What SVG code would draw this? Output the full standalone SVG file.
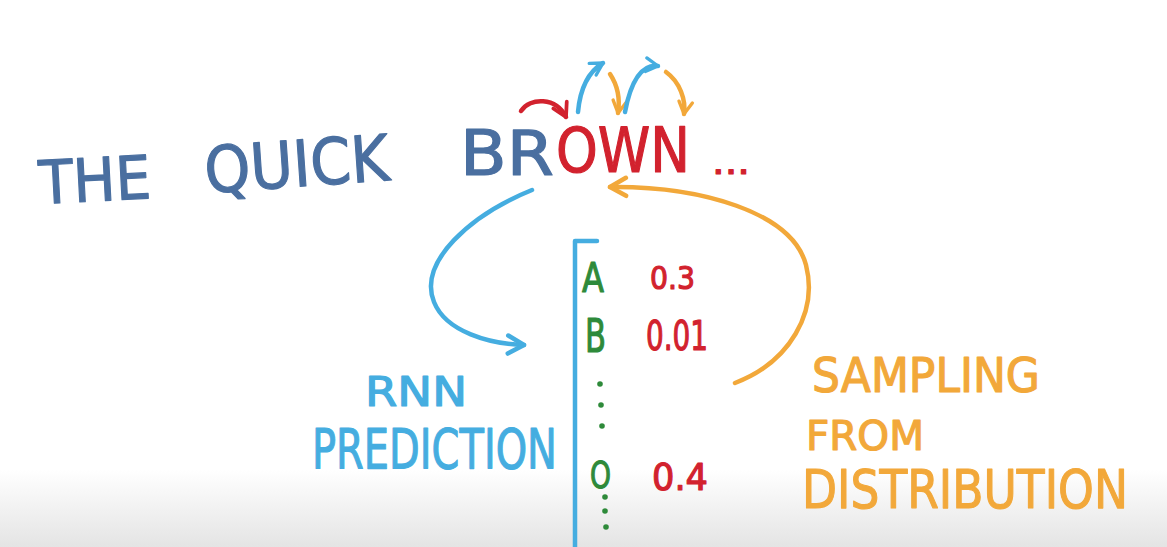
<svg xmlns="http://www.w3.org/2000/svg" width="1167" height="547" viewBox="0 0 1167 547">
<defs>
<linearGradient id="fade" x1="0" y1="0" x2="0" y2="1">
<stop offset="0" stop-color="#ffffff"/>
<stop offset="1" stop-color="#e4e4e4"/>
</linearGradient>
<marker id="mBlue" markerUnits="userSpaceOnUse" viewBox="0 0 24 24" refX="20" refY="12" markerWidth="24" markerHeight="24" orient="auto">
<path d="M4,3 L20,12 L4,21" fill="none" stroke="#45ade0" stroke-width="4.5" stroke-linecap="round" stroke-linejoin="round"/>
</marker>
<marker id="mOrange" markerUnits="userSpaceOnUse" viewBox="0 0 24 24" refX="20" refY="12" markerWidth="24" markerHeight="24" orient="auto">
<path d="M4,3 L20,12 L4,21" fill="none" stroke="#f2a83a" stroke-width="4.5" stroke-linecap="round" stroke-linejoin="round"/>
</marker>
<marker id="mRed" markerUnits="userSpaceOnUse" viewBox="0 0 24 24" refX="20" refY="12" markerWidth="20" markerHeight="20" orient="auto">
<path d="M4,3 L20,12 L4,21" fill="none" stroke="#d2222e" stroke-width="4.5" stroke-linecap="round" stroke-linejoin="round"/>
</marker>
<marker id="mBlueS" markerUnits="userSpaceOnUse" viewBox="0 0 24 24" refX="20" refY="12" markerWidth="18" markerHeight="18" orient="auto">
<path d="M4,3 L20,12 L4,21" fill="none" stroke="#45ade0" stroke-width="4.5" stroke-linecap="round" stroke-linejoin="round"/>
</marker>
<marker id="mOrangeS" markerUnits="userSpaceOnUse" viewBox="0 0 24 24" refX="20" refY="12" markerWidth="18" markerHeight="18" orient="auto">
<path d="M4,3 L20,12 L4,21" fill="none" stroke="#f2a83a" stroke-width="4.5" stroke-linecap="round" stroke-linejoin="round"/>
</marker>
</defs>
<style>
text{font-family:"DejaVu Sans","Liberation Sans",sans-serif;stroke-width:1.2;stroke-linejoin:round}
.navy{fill:#4a6fa0;stroke:#4a6fa0}
.red{fill:#d2222e;stroke:#d2222e}
.sky{fill:#45ade0;stroke:#45ade0}
.amber{fill:#f2a83a;stroke:#f2a83a}
.green{fill:#2e8a3a;stroke:#2e8a3a}
.line{fill:none;stroke-width:4.5;stroke-linecap:round;stroke-linejoin:round}
</style>
<rect width="1167" height="547" fill="#ffffff"/>
<rect y="470" width="1167" height="77" fill="url(#fade)"/>

<g id="sentence">
<text class="navy" x="40" y="204" font-size="60" textLength="112" lengthAdjust="spacingAndGlyphs" transform="rotate(-3 40 204)">THE</text>
<text class="navy" x="206" y="193" font-size="64" textLength="185" lengthAdjust="spacingAndGlyphs" transform="rotate(-4 206 193)">QUICK</text>
<text class="navy" x="460" y="175" font-size="62" textLength="94" lengthAdjust="spacingAndGlyphs">BR</text>
<text class="red" x="556" y="172" font-size="62" textLength="134" lengthAdjust="spacingAndGlyphs">OWN</text>
<text class="red" x="712" y="174" font-size="36" textLength="38" lengthAdjust="spacingAndGlyphs">...</text>
</g>

<g id="distribution">
<path class="line" d="M597,241 L575,241 L575,547" stroke="#45ade0"/>
<text class="green" x="582" y="292" font-size="41" textLength="22" lengthAdjust="spacingAndGlyphs">A</text>
<text class="green" x="585" y="352" font-size="46" textLength="21" lengthAdjust="spacingAndGlyphs">B</text>
<circle cx="600" cy="384" r="2.8" fill="#2e8a3a"/>
<circle cx="601" cy="405" r="2.8" fill="#2e8a3a"/>
<circle cx="602" cy="426" r="2.8" fill="#2e8a3a"/>
<text class="green" x="590" y="488" font-size="38" textLength="21" lengthAdjust="spacingAndGlyphs">O</text>
<circle cx="605" cy="497" r="2.8" fill="#2e8a3a"/>
<circle cx="605" cy="511" r="2.8" fill="#2e8a3a"/>
<circle cx="606" cy="527" r="2.8" fill="#2e8a3a"/>
<text class="red" x="650" y="289" font-size="32" textLength="45" lengthAdjust="spacingAndGlyphs">0.3</text>
<text class="red" x="646" y="350" font-size="40" textLength="62" lengthAdjust="spacingAndGlyphs">0.01</text>
<text class="red" x="652" y="490" font-size="38" textLength="56" lengthAdjust="spacingAndGlyphs">0.4</text>
</g>

<g id="rnn-label">
<text class="sky" x="365" y="406" font-size="40" textLength="102" lengthAdjust="spacingAndGlyphs">RNN</text>
<text class="sky" x="312" y="468" font-size="56" textLength="245" lengthAdjust="spacingAndGlyphs">PREDICTION</text>
</g>

<g id="sampling-label">
<text class="amber" x="812" y="392" font-size="48" textLength="228" lengthAdjust="spacingAndGlyphs">SAMPLING</text>
<text class="amber" x="806" y="450" font-size="40" textLength="118" lengthAdjust="spacingAndGlyphs">FROM</text>
<text class="amber" x="802" y="508" font-size="54" textLength="326" lengthAdjust="spacingAndGlyphs">DISTRIBUTION</text>
</g>

<g id="connectors">
<path class="line" d="M532,190 C470,215 418,262 434,302 C446,332 490,344 524,345" stroke="#45ade0" marker-end="url(#mBlue)"/>
<path class="line" d="M735,383 C790,362 818,312 806,265 C792,212 700,186 610,187" stroke="#f2a83a" marker-end="url(#mOrange)"/>
<path class="line" d="M521,111 C530,97 556,97 566,117" stroke="#d2222e" marker-end="url(#mRed)"/>
<path class="line" d="M578,112 C580,90 588,72 603,63" stroke="#45ade0" marker-end="url(#mBlueS)"/>
<path class="line" d="M610,74 C618,86 620,100 618,113" stroke="#f2a83a" marker-end="url(#mOrangeS)"/>
<path class="line" d="M625,112 C630,86 640,64 658,66" stroke="#45ade0" marker-end="url(#mBlueS)"/>
<path class="line" d="M666,72 C680,82 686,100 684,114" stroke="#f2a83a" marker-end="url(#mOrangeS)"/>
</g>
</svg>
